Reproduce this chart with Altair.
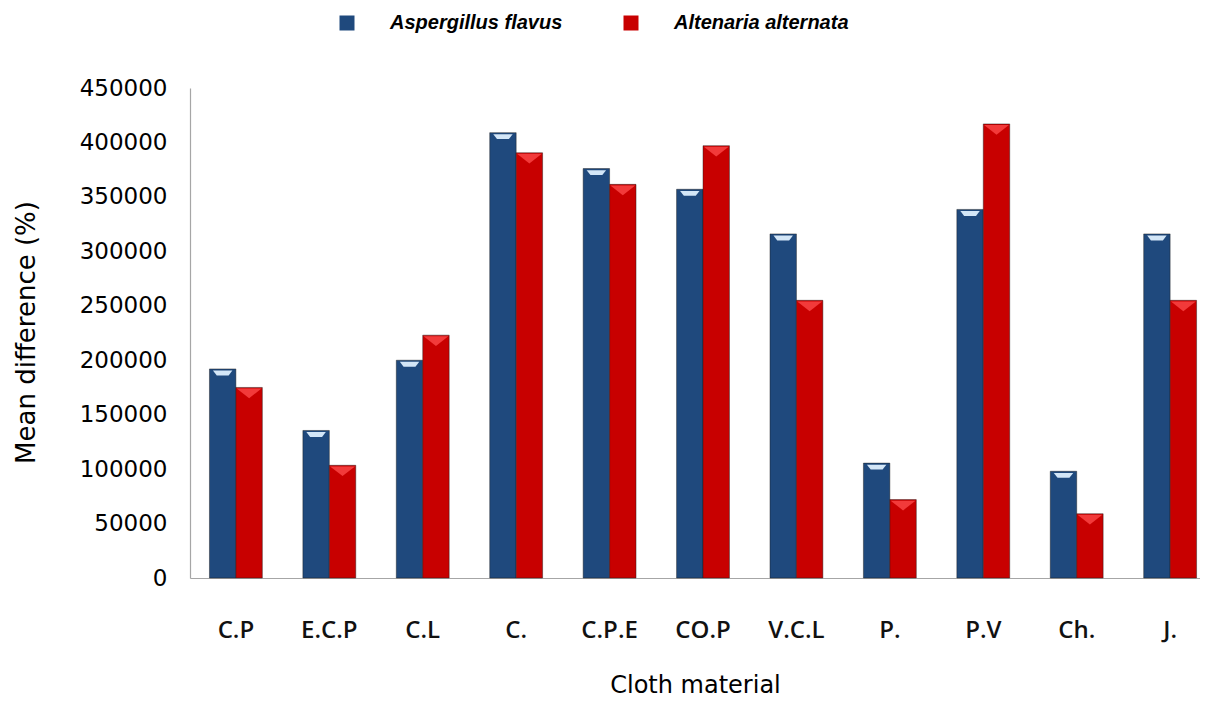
import altair as alt
import pandas as pd

materials = ["C.P", "E.C.P", "C.L", "C.", "C.P.E", "CO.P", "V.C.L", "P.", "P.V", "Ch.", "J."]
series = ["Aspergillus flavus", "Altenaria alternata"]
aspergillus = [192000, 135500, 200000, 409000, 376000, 357000, 316000, 105500, 338500, 98000, 316000]
altenaria = [175000, 103500, 223000, 390500, 361500, 397000, 255000, 72000, 417000, 59000, 255000]
y_ticks = [0, 50000, 100000, 150000, 200000, 250000, 300000, 350000, 400000, 450000]

rows = []
for m, a, b in zip(materials, aspergillus, altenaria):
    rows.append({"material": m, "series": series[0], "value": a})
    rows.append({"material": m, "series": series[1], "value": b})
df = pd.DataFrame(rows)

x_enc = alt.X(
    "material:N",
    sort=materials,
    scale=alt.Scale(paddingInner=0.434, paddingOuter=0.1225, align=0.85),
    axis=alt.Axis(
        title="Cloth material",
        labelAngle=0,
        ticks=False,
        labelPadding=40,
        labelFont="Open Sans",
        labelFontSize=24,
        labelFontWeight=600,
        labelColor="#111111",
        titleFont="DejaVu Sans",
        titleFontSize=24,
        titleFontWeight="normal",
        titleColor="#000000",
        titleY=114,
        titleBaseline="alphabetic",
        domainColor="#A6A6A6",
        domainWidth=1.2,
    ),
)
xoff_enc = alt.XOffset("series:N", sort=series, scale=alt.Scale(domain=series, paddingInner=0))
y_enc = alt.Y(
    "value:Q",
    scale=alt.Scale(domain=[0, 450000], nice=False),
    axis=alt.Axis(
        title="Mean difference (%)",
        values=y_ticks,
        format="d",
        grid=False,
        ticks=False,
        labelPadding=23,
        labelFont="DejaVu Sans",
        labelFontSize=23,
        labelColor="#000000",
        titleFont="DejaVu Sans",
        titleFontSize=26,
        titleFontWeight="normal",
        titleColor="#000000",
        titleAngle=-90,
        titleX=-164,
        titleY=244,
        titleAlign="center",
        titleBaseline="middle",
        domainColor="#A6A6A6",
        domainWidth=1.2,
    ),
)

bars = alt.Chart(df).mark_bar(
    stroke="#1A1A1A", strokeWidth=0.8, strokeOpacity=0.55
).encode(
    x=x_enc,
    xOffset=xoff_enc,
    y=y_enc,
    color=alt.Color(
        "series:N",
        sort=series,
        scale=alt.Scale(domain=series, range=["#1F497D", "#C80000"]),
        legend=alt.Legend(
            title=None,
            orient="none",
            direction="horizontal",
            legendX=147,
            legendY=-75,
            padding=0,
            symbolType="square",
            symbolSize=225,
            symbolStrokeWidth=0,
            labelFont="Liberation Sans",
            labelFontSize=20,
            labelFontStyle="italic",
            labelFontWeight="bold",
            labelColor="#000000",
            labelOffset=33,
            columnPadding=58,
            labelLimit=400,
        ),
    ),
)

hl_blue = alt.Chart(df).transform_filter(
    alt.datum.series == series[0]
).mark_point(
    shape="M -0.36 0.06 L 0.36 0.06 L 0.22 0.24 L -0.22 0.24 Z",
    size=2916, filled=True, color="#D3E6F7", opacity=1, strokeWidth=0,
).encode(x=x_enc, xOffset=xoff_enc, y=y_enc)

hl_red = alt.Chart(df).transform_filter(
    alt.datum.series == series[1]
).mark_point(
    shape="M -0.46 0.04 L 0.46 0.04 L 0 0.4 Z",
    size=2916, filled=True, color="#F23A3A", opacity=1, strokeWidth=0,
).encode(x=x_enc, xOffset=xoff_enc, y=y_enc)

chart = alt.layer(bars, hl_blue, hl_red).properties(
    width=1010,
    height=490,
    autosize=alt.AutoSizeParams(type="none"),
    padding={"left": 182, "top": 80, "right": 0, "bottom": 125},
).configure(background="#FFFFFF").configure_view(stroke=None)

chart.save("out.html", embed_options={"renderer": "svg", "actions": False})
